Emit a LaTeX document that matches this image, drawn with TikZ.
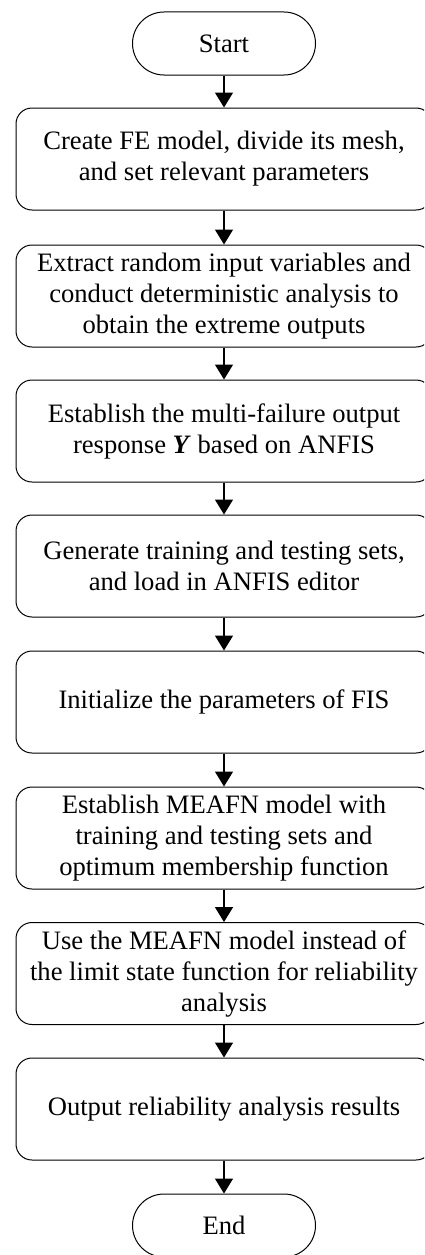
\documentclass[tikz,border=0pt]{standalone}
\usepackage{fontspec}
\setmainfont{Liberation Serif}
\usetikzlibrary{arrows.meta}
\begin{document}
\begin{tikzpicture}[x=1pt,y=-1pt,
  every node/.style={font=\fontsize{26.6}{31}\selectfont, align=center, inner sep=0pt},
  stepbox/.style={draw, line width=1pt, rounded corners=16pt,
    minimum width=416pt, minimum height=102pt},
  terminal/.style={draw, line width=1pt, rounded corners=31.5pt,
    minimum width=183pt, minimum height=63pt},
  flow/.style={line width=1.6pt, -{Triangle[width=18pt,length=15pt]}}]
\useasboundingbox (0,0) rectangle (424,1255);
\begin{scope}
\clip (0,0) rectangle (424,1255);
\node[terminal] (start) at (224,43.5) {Start};
\node[stepbox] (s1) at (224,159) {Create FE model, divide its mesh,\\and set relevant parameters};
\node[stepbox] (s2) at (224,296) {Extract random input variables and\\conduct deterministic analysis to\\obtain the extreme outputs};
\node[stepbox] (s3) at (224,431) {Establish the multi-failure output\\response \textbf{\textit{Y}} based on ANFIS};
\node[stepbox] (s4) at (224,566) {Generate training and testing sets,\\and load in ANFIS editor};
\node[stepbox] (s5) at (224,702) {Initialize the parameters of FIS};
\node[stepbox] (s6) at (224,838) {Establish MEAFN model with\\training and testing sets and\\optimum membership function};
\node[stepbox] (s7) at (224,973.5) {Use the MEAFN model instead of\\the limit state function for reliability\\analysis};
\node[stepbox] (s8) at (224,1109) {Output reliability analysis results};
\node[terminal] (end) at (224,1225.5) {End};
\draw[flow] (start) -- (s1);
\draw[flow] (s1) -- (s2);
\draw[flow] (s2) -- (s3);
\draw[flow] (s3) -- (s4);
\draw[flow] (s4) -- (s5);
\draw[flow] (s5) -- (s6);
\draw[flow] (s6) -- (s7);
\draw[flow] (s7) -- (s8);
\draw[flow] (s8) -- (end);
\end{scope}
\end{tikzpicture}
\end{document}
